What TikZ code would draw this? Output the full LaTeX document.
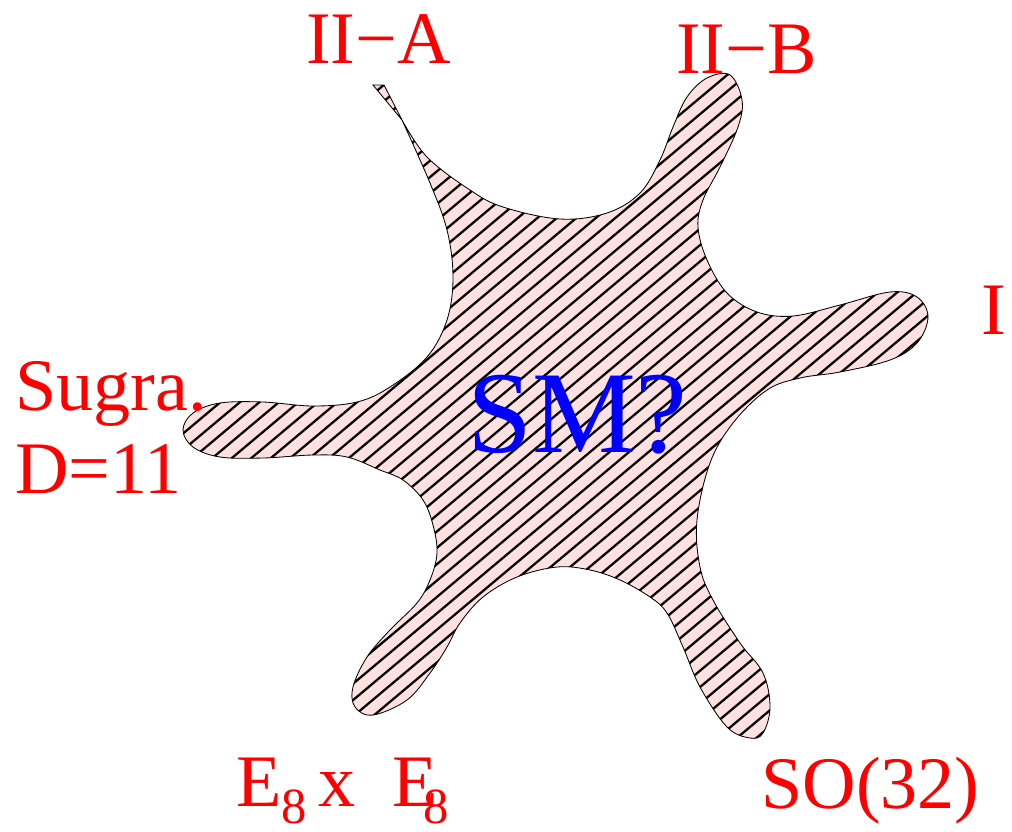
\documentclass[tikz,border=0pt]{standalone}
\usepackage{fontspec}
\setmainfont{Liberation Serif}
\definecolor{blobpink}{RGB}{255,225,225}
\tikzset{lbl/.style={text=red, inner sep=0pt, anchor=base west, font=\fontsize{52.7}{59}\selectfont}}
\newcommand{\blobpath}{plot[smooth, tension=0.6] coordinates {(402,120) (427,157) (470,190) (503,207) (560,219) (607,213) (640,193) (660,160) (673,127) (687,97) (707,78) (730,75) (742,100) (738,127) (720,167) (703,200) (698,227) (707,260) (727,293) (757,312) (793,316) (840,305) (890,292) (917,297) (928,317) (917,343) (890,360) (840,372) (800,378) (767,390) (733,423) (710,463) (697,520) (700,567) (713,600) (740,643) (763,673) (770,707) (763,733) (750,738) (727,727) (700,687) (683,647) (667,613) (650,597) (620,580) (590,570) (557,567) (517,577) (483,597) (460,623) (447,647) (430,673) (407,700) (373,715) (355,707) (353,687) (367,657) (390,630) (417,603) (430,580) (437,553) (433,525) (423,500) (403,480) (380,470) (347,457) (313,455) (263,458) (220,457) (193,447) (183,430) (193,413) (220,403) (263,402) (313,406) (357,402) (390,387) (427,357) (447,320) (453,277) (447,230) (430,183) (402,120)} -- (373,85) -- (384,85) -- cycle}

\begin{document}
\begin{tikzpicture}[x=0.025cm, y=-0.025cm]
	\useasboundingbox (0,0) rectangle (1012,831);
	\fill[blobpink] \blobpath;
	\begin{scope}
		\clip \blobpath;
		\foreach \i in {0,...,90}
			\draw[line width=1.6pt] ({-780+19.5*\i},800) -- ++(953,-800);
	\end{scope}
	\draw[line width=0.6pt] \blobpath;
	\node[lbl] (iia) at (306,63) {II−A};
	\node[lbl] (iib) at (676,73) {II−B};
	\node[lbl] (i) at (981,334) {I};
	\node[lbl] (sugra) at (15,410) {Sugra.};
	\node[lbl] (dim) at (15,493) {D=11};
	\node[lbl] (e8) at (236,806) {E\raisebox{-0.43cm}{\fontsize{36}{40}\selectfont 8}\hspace{0.28cm}x~~E\kern-0.36cm\raisebox{-0.43cm}{\fontsize{36}{40}\selectfont 8}};
	\node[lbl] (so) at (761,808) {SO(32)};
	\node[lbl, text=blue, font=\fontsize{83}{88}\selectfont] (sm) at (467,452) {SM?};
\end{tikzpicture}
\end{document}
